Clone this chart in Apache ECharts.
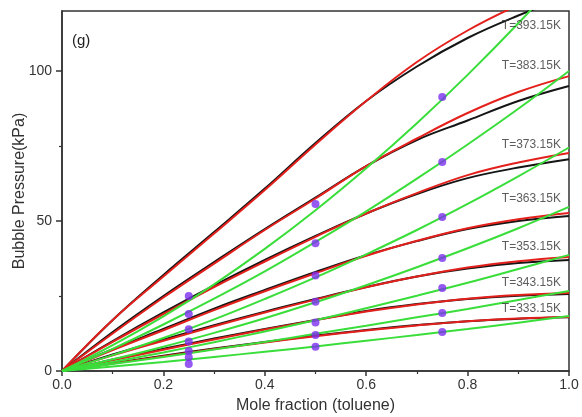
<!DOCTYPE html>
<html>
<head>
<meta charset="utf-8">
<script src="https://cdn.jsdelivr.net/npm/echarts@6/dist/echarts.min.js"></script>
<style>html,body{margin:0;padding:0;background:#fff}#c{width:582px;height:417px}</style>
</head>
<body>
<div id="c"></div>
<script>
// mole fraction grid
const xs = [0, 0.1, 0.2, 0.3, 0.4, 0.5, 0.6, 0.7, 0.8, 0.9, 1.0];
const temps = ['393.15', '383.15', '373.15', '363.15', '353.15', '343.15', '333.15'];

// black model curves
const black393 = [0, 17, 32, 46.3, 60.8, 76, 90, 101.5, 111, 118.5, 125];
const black383 = [0, 13, 25, 36.3, 47.3, 57.8, 68.3, 77, 83.5, 90, 95];
const black373 = [0, 10, 19.5, 28.5, 37, 45, 52.5, 59, 64.3, 67.8, 70.6];
const black363 = [0, 7.3, 14, 20.8, 27, 33, 38.6, 43.3, 47.3, 50, 51.7];
const black353 = [0, 5.5, 10.5, 15.3, 19.8, 24, 28, 31.5, 34.2, 36, 37];
const black343 = [0, 3.8, 7.4, 10.8, 14, 17, 20, 22.3, 24, 25.1, 25.7];
const black333 = [0, 2.6, 5.1, 7.5, 9.7, 11.8, 13.7, 15.3, 16.6, 17.4, 17.9];

// red model curves
const red393 = [0, 17, 31.5, 45.8, 60.3, 75.5, 90, 103, 113.5, 122, 129];
const red383 = [0, 12.5, 24.5, 35.8, 47, 57.5, 68.3, 77.5, 86, 93, 98.3];
const red373 = [0, 9.7, 19, 28, 36.5, 44.7, 52.5, 59.3, 65.3, 69.5, 72.7];
const red363 = [0, 7, 13.6, 20.3, 26.6, 32.6, 38.4, 43.4, 47.6, 50.6, 52.7];
const red353 = [0, 5.2, 10.1, 14.9, 19.5, 23.8, 27.9, 31.5, 34.5, 36.6, 38];
const red343 = [0, 3.6, 7.1, 10.5, 13.8, 16.9, 19.8, 22.2, 24.1, 25.3, 26];
const red333 = [0, 2.5, 4.9, 7.3, 9.5, 11.6, 13.5, 15.2, 16.6, 17.5, 18];

// green curves
const green393 = [0, 8.6, 18.2, 28.9, 40.7, 53.6, 67.6, 82.6, 98.7, 115.9, 134.2];
const green383 = [0, 7.4, 15.5, 24.1, 33.2, 43, 53.2, 64.1, 75.5, 87.4, 100];
const green373 = [0, 5.3, 11, 17.2, 24, 31.2, 38.9, 47, 55.7, 64.9, 74.5];
const green363 = [0, 3.9, 8.1, 12.7, 17.6, 22.9, 28.6, 34.6, 40.9, 47.6, 54.7];
const green353 = [0, 3.0, 6.2, 9.6, 13.2, 16.9, 20.9, 25.1, 29.4, 34, 38.7];
const green343 = [0, 2.3, 4.7, 7.2, 9.7, 12.4, 15.1, 17.9, 20.7, 23.7, 26.7];
const green333 = [0, 1.5, 3.0, 4.7, 6.4, 8.2, 10.1, 12.0, 14.0, 16.1, 18.3];

// experimental points
const dotX = [0.25, 0.5, 0.75];
const dots025 = [25, 19, 13.9, 9.8, 6.7, 4.6, 2.3];
const dots050 = [55.7, 42.6, 31.8, 23.1, 16.2, 12, 8.1];
const dots075 = [91.3, 69.7, 51.3, 37.7, 27.7, 19.3, 13];

// temperature label anchors (x, kPa)
const labelX = 0.984;
const labelY = [115, 101.7, 75.3, 57.3, 41.3, 29.3, 20.7];

const yMajor = [0, 50, 100];
const yMinor = [25, 75];

const blacks = [black393, black383, black373, black363, black353, black343, black333];
const reds = [red393, red383, red373, red363, red353, red343, red333];
const greens = [green393, green383, green373, green363, green353, green343, green333];

const FONT = 'Liberation Sans, Arial, sans-serif';
const pair = arr => xs.map((x, i) => [x, arr[i]]);
const series = [];
blacks.forEach((b, i) => series.push({
  type: 'line', name: 'black ' + temps[i], data: pair(b), smooth: 0.4, symbol: 'none',
  lineStyle: {color: '#151515', width: 2}, z: 2
}));
reds.forEach((r, i) => series.push({
  type: 'line', name: 'red ' + temps[i], data: pair(r), smooth: 0.4, symbol: 'none',
  lineStyle: {color: '#e3201c', width: 2}, z: 3
}));
greens.forEach((g, i) => series.push({
  type: 'line', name: 'green ' + temps[i], data: pair(g), smooth: 0.4, symbol: 'none',
  lineStyle: {color: '#3ade3a', width: 2}, z: 4
}));
const dotData = [];
[dots025, dots050, dots075].forEach((arr, j) => arr.forEach(v => dotData.push([dotX[j], v])));
series.push({
  type: 'scatter', data: dotData, symbolSize: 8, itemStyle: {color: '#7b30ee'}, z: 6
});
series.push({
  type: 'scatter', data: labelY.map((y, i) => [labelX, y, 'T=' + temps[i] + 'K']),
  symbolSize: 0, z: 7, silent: true,
  label: {show: true, position: 'left', distance: 0, formatter: p => p.data[2],
    color: '#333', fontSize: 12, fontFamily: FONT}
});

const chart = echarts.init(document.getElementById('c'), null, {renderer: 'canvas'});
chart.setOption({
  animation: false,
  backgroundColor: '#fff',
  grid: {left: 62, right: 13, top: 11, bottom: 46, containLabel: false, outerBoundsMode: 'none',
    show: true, borderColor: '#333', borderWidth: 1.5, backgroundColor: 'transparent'},
  xAxis: {
    type: 'value', min: 0, max: 1, interval: 0.2,
    name: 'Mole fraction (toluene)', nameLocation: 'middle', nameGap: 27,
    nameTextStyle: {fontSize: 16, color: '#333', fontFamily: FONT},
    axisLine: {lineStyle: {color: '#333', width: 1.5}},
    axisTick: {show: true, length: 5, lineStyle: {color: '#333', width: 1.5}},
    minorTick: {show: true, splitNumber: 2, length: 3, lineStyle: {color: '#333', width: 1.2}},
    axisLabel: {fontSize: 14, color: '#333', margin: 7, formatter: v => v.toFixed(1), fontFamily: FONT},
    splitLine: {show: false}
  },
  yAxis: [{
    type: 'value', min: 0, max: 120, interval: 50,
    name: 'Bubble Pressure(kPa)', nameLocation: 'middle', nameGap: 34, nameMoveOverlap: false,
    nameTextStyle: {fontSize: 16, color: '#333', fontFamily: FONT},
    axisLine: {show: true, lineStyle: {color: '#333', width: 1.5}},
    axisTick: {show: true, length: 6, customValues: yMajor, lineStyle: {color: '#333', width: 1.5}},
    axisLabel: {fontSize: 14, color: '#333', margin: 10, customValues: yMajor, fontFamily: FONT},
    splitLine: {show: false}
  }, {
    type: 'value', min: 0, max: 120, position: 'left',
    axisLine: {show: false},
    axisTick: {show: true, length: 3, customValues: yMinor, lineStyle: {color: '#333', width: 1.2}},
    axisLabel: {show: false},
    splitLine: {show: false}
  }],
  graphic: [{
    type: 'text', left: 72, top: 33,
    style: {text: '(g)', fontSize: 15, fill: '#222', fontFamily: FONT}
  }],
  series: series
});
</script>
</body>
</html>
